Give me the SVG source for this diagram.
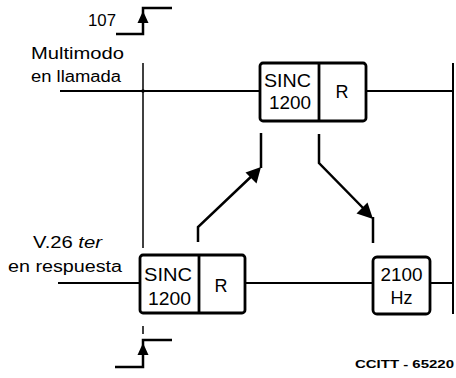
<svg xmlns="http://www.w3.org/2000/svg" width="456" height="378" viewBox="0 0 456 378">
<style>
.t{font-family:"Liberation Sans",Arial,sans-serif;fill:#000}
.lbl{font-size:16px}
.bx{font-size:18px}
.box{fill:#fff;stroke:#000;stroke-width:2.8}
.ln{fill:none;stroke:#000;stroke-width:2;stroke-linecap:butt}
.thin{fill:none;stroke:#000;stroke-width:1.5}
.arr{fill:none;stroke:#000;stroke-width:2.5;stroke-linejoin:miter}
</style>
<rect width="456" height="378" fill="#fff"/>
<g id="connectors">
  <line class="ln" x1="60" y1="91" x2="261" y2="91"/>
  <line class="ln" x1="366" y1="91" x2="453" y2="91"/>
  <line class="ln" x1="58" y1="283" x2="140" y2="283"/>
  <line class="ln" x1="245" y1="283" x2="373" y2="283"/>
  <line class="ln" x1="430" y1="283" x2="453" y2="283"/>
  <line class="ln" x1="453" y1="63" x2="453" y2="314"/>
  <line class="thin" x1="143" y1="63" x2="143" y2="248"/>
  <line class="thin" x1="143" y1="326" x2="143" y2="334"/>
  <circle cx="143" cy="91" r="1.8" fill="#000"/>
  <polyline class="arr" points="116,34 143,34 143,8 172,8"/>
  <polygon points="143,11 137.5,23 148.5,23" fill="#000"/>
  <polyline class="arr" points="115,367 143,367 143,340 172,340"/>
  <polygon points="143,343 137.5,355 148.5,355" fill="#000"/>
  <polyline class="arr" points="198,242 198,227 256,172"/>
  <line class="arr" x1="261" y1="168" x2="261" y2="133"/>
  <polygon points="261,167 245.5,172.5 256.5,183.5" fill="#000"/>
  <polyline class="arr" points="319,134 319,163 367,212"/>
  <line class="arr" x1="373" y1="217" x2="373" y2="243"/>
  <polygon points="373,219 356.5,213.5 367.5,202.5" fill="#000"/>
</g>
<g id="top-box">
  <rect class="box" x="260" y="63" width="106" height="58" rx="3"/>
  <line x1="319" y1="63" x2="319" y2="121" stroke="#000" stroke-width="2.8"/>
  <text class="t bx" x="264" y="87" textLength="47" lengthAdjust="spacingAndGlyphs">SINC</text>
  <text class="t bx" x="269" y="109" textLength="42" lengthAdjust="spacingAndGlyphs">1200</text>
  <text class="t bx" x="342" y="98" text-anchor="middle">R</text>
</g>
<g id="bottom-box">
  <rect class="box" x="140" y="255" width="105" height="58" rx="3"/>
  <line x1="199" y1="255" x2="199" y2="313" stroke="#000" stroke-width="2.8"/>
  <text class="t bx" x="144" y="281" textLength="48" lengthAdjust="spacingAndGlyphs">SINC</text>
  <text class="t bx" x="148" y="305" textLength="43" lengthAdjust="spacingAndGlyphs">1200</text>
  <text class="t bx" x="221" y="292" text-anchor="middle">R</text>
</g>
<g id="hz-box">
  <rect class="box" x="373" y="257" width="57" height="57" rx="4"/>
  <text class="t bx" x="401.5" y="281" text-anchor="middle" textLength="42" lengthAdjust="spacingAndGlyphs">2100</text>
  <text class="t bx" x="401.5" y="304" text-anchor="middle">Hz</text>
</g>
<g id="labels">
  <text class="t" x="88" y="26" style="font-size:16px" textLength="28" lengthAdjust="spacingAndGlyphs">107</text>
  <text class="t lbl" x="31" y="59" textLength="93" lengthAdjust="spacingAndGlyphs">Multimodo</text>
  <text class="t lbl" x="31" y="82" textLength="90" lengthAdjust="spacingAndGlyphs">en llamada</text>
  <text class="t lbl" x="33" y="248" textLength="69" lengthAdjust="spacingAndGlyphs">V.26 <tspan font-style="italic">ter</tspan></text>
  <text class="t lbl" x="8" y="272" textLength="114" lengthAdjust="spacingAndGlyphs">en respuesta</text>
  <text class="t" x="355" y="368" font-size="11.5" font-weight="bold" textLength="99" lengthAdjust="spacingAndGlyphs">CCITT - 65220</text>
</g>
</svg>
